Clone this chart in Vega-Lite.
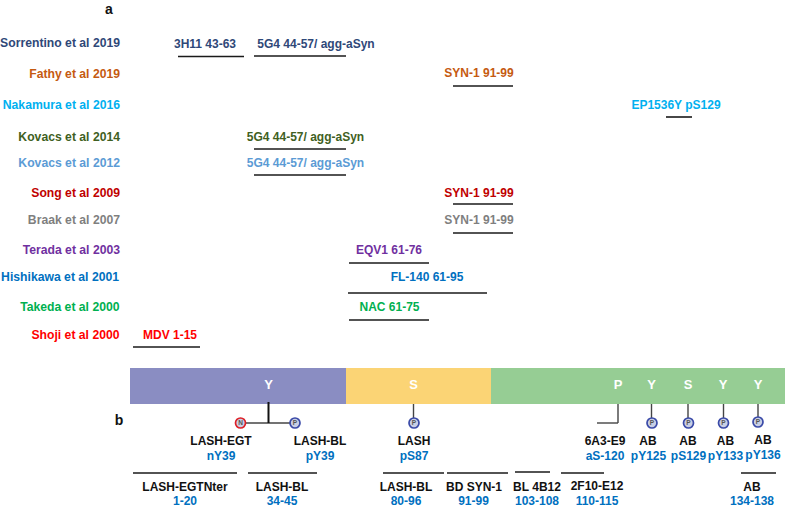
{
"$schema":"https://vega.github.io/schema/vega-lite/v6.json",
"width":786,"height":510,"padding":0,
"autosize":{"type":"fit","contains":"padding"},
"background":"white",
"config":{"view":{"stroke":null},"text":{"font":"Liberation Sans","fontWeight":"bold"}},
"datasets":{
"domains":[
{"domain":"N-terminal","p1":130,"p2":346,"l1":368,"l2":404},
{"domain":"NAC","p1":346,"p2":491,"l1":368,"l2":404},
{"domain":"C-terminal","p1":491,"p2":785,"l1":368,"l2":404}],
"epitopes":[
{"study":"Sorrentino et al 2019","epitope":"3H11 43-63","p1":178,"p2":244,"lane":56.5},
{"study":"Sorrentino et al 2019","epitope":"5G4 44-57/ agg-aSyn","p1":254,"p2":346,"lane":56},
{"study":"Fathy et al 2019","epitope":"SYN-1 91-99","p1":453,"p2":513,"lane":86},
{"study":"Nakamura et al 2016","epitope":"EP1536Y pS129","p1":666,"p2":692,"lane":117},
{"study":"Kovacs et al 2014","epitope":"5G4 44-57/ agg-aSyn","p1":254,"p2":346,"lane":149},
{"study":"Kovacs et al 2012","epitope":"5G4 44-57/ agg-aSyn","p1":254,"p2":346,"lane":175},
{"study":"Song et al 2009","epitope":"SYN-1 91-99","p1":453,"p2":513,"lane":204},
{"study":"Braak et al 2007","epitope":"SYN-1 91-99","p1":453,"p2":513,"lane":233},
{"study":"Terada et al 2003","epitope":"EQV1 61-76","p1":349,"p2":429,"lane":263},
{"study":"Hishikawa et al 2001","epitope":"FL-140 61-95","p1":348,"p2":487,"lane":293},
{"study":"Takeda et al 2000","epitope":"NAC 61-75","p1":349,"p2":429,"lane":320},
{"study":"Shoji et al 2000","epitope":"MDV 1-15","p1":133,"p2":200,"lane":347},
{"study":"LASH-EGTNter","epitope":"1-20","p1":133,"p2":237,"lane":473},
{"study":"LASH-BL","epitope":"34-45","p1":248,"p2":317,"lane":473},
{"study":"LASH-BL","epitope":"80-96","p1":383,"p2":444,"lane":473},
{"study":"BD SYN-1","epitope":"91-99","p1":447,"p2":508,"lane":473},
{"study":"BL 4B12","epitope":"103-108","p1":515,"p2":550,"lane":472},
{"study":"2F10-E12","epitope":"110-115","p1":561,"p2":604,"lane":473},
{"study":"AB","epitope":"134-138","p1":741,"p2":776,"lane":473}],
"stems":[
{"site":"Y39","p1":268.5,"p2":268.5,"l1":402,"l2":423,"w":"thick"},
{"site":"Y39","p1":240,"p2":295,"l1":423,"l2":423,"w":"thin"},
{"site":"S87","p1":413.5,"p2":413.5,"l1":404,"l2":420,"w":"thin"},
{"site":"S120","p1":618,"p2":618,"l1":404,"l2":423,"w":"thin"},
{"site":"S120","p1":597,"p2":618,"l1":423,"l2":423,"w":"thin"},
{"site":"Y125","p1":651.5,"p2":651.5,"l1":404,"l2":420,"w":"thin"},
{"site":"S129","p1":688,"p2":688,"l1":404,"l2":420,"w":"thin"},
{"site":"Y133","p1":723.5,"p2":723.5,"l1":404,"l2":420,"w":"thin"},
{"site":"Y136","p1":758,"p2":758,"l1":404,"l2":419,"w":"thin"}],
"mods":[
{"mod":"N","pos":240.5,"lane":423},
{"mod":"P","pos":295,"lane":423},
{"mod":"P","pos":414,"lane":423},
{"mod":"P","pos":652,"lane":423},
{"mod":"P","pos":688.5,"lane":423},
{"mod":"P","pos":723.5,"lane":423},
{"mod":"P","pos":758,"lane":422}],
"residues":[
{"res":"Y","pos":268.5},{"res":"S","pos":413.5},{"res":"P","pos":618},{"res":"Y","pos":651.5},{"res":"S","pos":688},{"res":"Y","pos":723},{"res":"Y","pos":758}],
"studies":[
{"t":"Sorrentino et al 2019","pos":120,"lane":42.5},
{"t":"Fathy et al 2019","pos":120,"lane":73.5},
{"t":"Nakamura et al 2016","pos":120,"lane":104.5},
{"t":"Kovacs et al 2014","pos":120,"lane":136.5},
{"t":"Kovacs et al 2012","pos":120,"lane":162.5},
{"t":"Song et al 2009","pos":120,"lane":192.5},
{"t":"Braak et al 2007","pos":120,"lane":219.5},
{"t":"Terada et al 2003","pos":120,"lane":249.5},
{"t":"Hishikawa et al 2001","pos":119,"lane":276.5},
{"t":"Takeda et al 2000","pos":119.5,"lane":306.5},
{"t":"Shoji et al 2000","pos":119.5,"lane":334.5}],
"labels":[
{"t":"3H11 43-63","g":"Sorrentino et al 2019","pos":205,"lane":43.5},
{"t":"5G4 44-57/ agg-aSyn","g":"Sorrentino et al 2019","pos":316,"lane":43.5},
{"t":"SYN-1 91-99","g":"Fathy et al 2019","pos":479,"lane":73},
{"t":"EP1536Y pS129","g":"Nakamura et al 2016","pos":676,"lane":104.5},
{"t":"5G4 44-57/ agg-aSyn","g":"Kovacs et al 2014","pos":305.5,"lane":136.5},
{"t":"5G4 44-57/ agg-aSyn","g":"Kovacs et al 2012","pos":305.5,"lane":162.5},
{"t":"SYN-1 91-99","g":"Song et al 2009","pos":479,"lane":192.5},
{"t":"SYN-1 91-99","g":"Braak et al 2007","pos":479,"lane":219.5},
{"t":"EQV1 61-76","g":"Terada et al 2003","pos":389,"lane":249.5},
{"t":"FL-140 61-95","g":"Hishikawa et al 2001","pos":427,"lane":276.5},
{"t":"NAC 61-75","g":"Takeda et al 2000","pos":389.5,"lane":306.5},
{"t":"MDV 1-15","g":"Shoji et al 2000","pos":170,"lane":334.5},
{"t":"LASH-EGT","g":"antibody","pos":221,"lane":440.5},
{"t":"nY39","g":"site","pos":221,"lane":455.5},
{"t":"LASH-BL","g":"antibody","pos":320,"lane":441},
{"t":"pY39","g":"site","pos":320,"lane":456},
{"t":"LASH","g":"antibody","pos":414,"lane":441},
{"t":"pS87","g":"site","pos":414,"lane":456},
{"t":"6A3-E9","g":"antibody","pos":605,"lane":441},
{"t":"aS-120","g":"site","pos":605,"lane":456},
{"t":"AB","g":"antibody","pos":648,"lane":441},
{"t":"pY125","g":"site","pos":648.5,"lane":456},
{"t":"AB","g":"antibody","pos":688,"lane":441},
{"t":"pS129","g":"site","pos":688.5,"lane":456},
{"t":"AB","g":"antibody","pos":725.5,"lane":441},
{"t":"pY133","g":"site","pos":725.5,"lane":456},
{"t":"AB","g":"antibody","pos":763,"lane":440},
{"t":"pY136","g":"site","pos":763,"lane":455},
{"t":"LASH-EGTNter","g":"antibody","pos":185,"lane":486.5},
{"t":"1-20","g":"site","pos":185,"lane":501},
{"t":"LASH-BL","g":"antibody","pos":282,"lane":486.5},
{"t":"34-45","g":"site","pos":282,"lane":501},
{"t":"LASH-BL","g":"antibody","pos":406,"lane":486.5},
{"t":"80-96","g":"site","pos":406,"lane":501},
{"t":"BD SYN-1","g":"antibody","pos":474,"lane":486.5},
{"t":"91-99","g":"site","pos":473.5,"lane":501},
{"t":"BL 4B12","g":"antibody","pos":537,"lane":486.5},
{"t":"103-108","g":"site","pos":537,"lane":501},
{"t":"2F10-E12","g":"antibody","pos":597,"lane":485.5},
{"t":"110-115","g":"site","pos":597,"lane":500.5},
{"t":"AB","g":"antibody","pos":752,"lane":486.5},
{"t":"134-138","g":"site","pos":752,"lane":501}],
"panels":[{"t":"a","pos":109,"lane":9.5},{"t":"b","pos":119,"lane":421}]
},
"resolve":{"scale":{"color":"shared"}},
"layer":[
{"data":{"name":"domains"},"mark":{"type":"rect"},
"encoding":{"x":{"field":"p1","type":"quantitative","scale":{"domain":[0,786],"nice":false,"zero":false},"axis":null},"x2":{"field":"p2"},
"y":{"field":"l1","type":"quantitative","scale":{"domain":[510,0],"nice":false,"zero":false},"axis":null},"y2":{"field":"l2"},
"fill":{"field":"domain","type":"nominal","legend":null,"scale":{"domain":["N-terminal","NAC","C-terminal"],"range":["#8a8dc2","#fbd475","#96cd94"]}}}},
{"data":{"name":"epitopes"},"mark":{"type":"rule","color":"#1a1a1a","strokeWidth":1.6},
"encoding":{"x":{"field":"p1","type":"quantitative"},"x2":{"field":"p2"},"y":{"field":"lane","type":"quantitative"}}},
{"data":{"name":"stems"},"transform":[{"filter":"datum.w==='thin'"}],"mark":{"type":"rule","color":"#444444","strokeWidth":1.4},
"encoding":{"x":{"field":"p1","type":"quantitative"},"x2":{"field":"p2"},"y":{"field":"l1","type":"quantitative"},"y2":{"field":"l2"}}},
{"data":{"name":"stems"},"transform":[{"filter":"datum.w==='thick'"}],"mark":{"type":"rule","color":"#111111","strokeWidth":2},
"encoding":{"x":{"field":"p1","type":"quantitative"},"x2":{"field":"p2"},"y":{"field":"l1","type":"quantitative"},"y2":{"field":"l2"}}},
{"data":{"name":"mods"},"mark":{"type":"point","filled":false,"fill":"#c9cfe4","fillOpacity":1,"strokeWidth":1.7,"size":100,"opacity":1},
"encoding":{"x":{"field":"pos","type":"quantitative"},"y":{"field":"lane","type":"quantitative"},
"stroke":{"field":"mod","type":"nominal","legend":null,"scale":{"domain":["N","P"],"range":["#dd2027","#3a4aa8"]}}}},
{"data":{"name":"mods"},"mark":{"type":"text","fontSize":6.5,"color":"#555555","baseline":"middle","align":"center"},
"encoding":{"x":{"field":"pos","type":"quantitative"},"y":{"field":"lane","type":"quantitative"},"text":{"field":"mod"}}},
{"data":{"name":"residues"},"mark":{"type":"text","fontSize":13,"color":"white","baseline":"middle","align":"center"},
"encoding":{"x":{"field":"pos","type":"quantitative"},"y":{"datum":385,"type":"quantitative"},"text":{"field":"res"}}},
{"data":{"name":"studies"},"mark":{"type":"text","fontSize":12.2,"align":"right","baseline":"middle"},
"encoding":{"x":{"field":"pos","type":"quantitative"},"y":{"field":"lane","type":"quantitative"},"text":{"field":"t"},
"color":{"field":"t","type":"nominal","legend":null,"scale":{"domain":["Sorrentino et al 2019","Fathy et al 2019","Nakamura et al 2016","Kovacs et al 2014","Kovacs et al 2012","Song et al 2009","Braak et al 2007","Terada et al 2003","Hishikawa et al 2001","Takeda et al 2000","Shoji et al 2000","antibody","site"],"range":["#2f4878","#c55a11","#00b0f0","#3f5f23","#5b9bd5","#c00000","#7f7f7f","#7030a0","#0070c0","#00b050","#ff0000","#111111","#0070c0"]}}}},
{"data":{"name":"labels"},"mark":{"type":"text","fontSize":12,"align":"center","baseline":"middle"},
"encoding":{"x":{"field":"pos","type":"quantitative"},"y":{"field":"lane","type":"quantitative"},"text":{"field":"t"},
"color":{"field":"g","type":"nominal","legend":null}}},
{"data":{"name":"panels"},"mark":{"type":"text","fontSize":14,"align":"center","baseline":"middle","color":"#111111"},
"encoding":{"x":{"field":"pos","type":"quantitative"},"y":{"field":"lane","type":"quantitative"},"text":{"field":"t"}}}
]
}
